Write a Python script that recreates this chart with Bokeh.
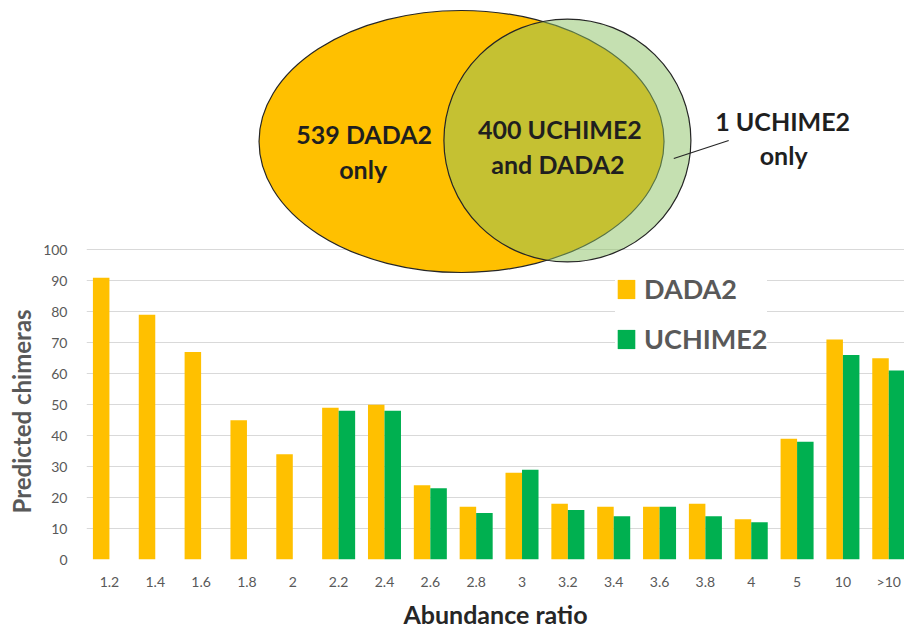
import math
from bokeh.plotting import figure
from bokeh.models import Range1d, FixedTicker, Legend, LegendItem, Title
from bokeh.core.properties import value
from bokeh.embed import file_html
from bokeh.resources import INLINE

# ---------------- data ----------------
ratios = ["1.2", "1.4", "1.6", "1.8", "2", "2.2", "2.4", "2.6", "2.8", "3",
          "3.2", "3.4", "3.6", "3.8", "4", "5", "10", ">10"]
dada2 = [91, 79, 67, 45, 34, 49, 50, 24, 17, 28, 18, 17, 17, 18, 13, 39, 71, 65]
uchime2 = [None, None, None, None, None, 48, 48, 23, 15, 29, 16, 14, 17, 14, 12, 38, 66, 61]
y_ticks = [0, 10, 20, 30, 40, 50, 60, 70, 80, 90, 100]

venn_dada2_only = 539
venn_both = 400
venn_uchime2_only = 1

# ---------------- layout constants ----------------
W, H = 904, 632
LEFT, BOTTOM = 85, 73
FRAME_W = W - LEFT
FRAME_H = H - BOTTOM
PX_PER_CAT = 45.9
PX_PER_UNIT = 3.097
BAR_W = 0.36
FONT = "Lato"
GREY = "#595959"
DARK = "#1f1f1f"

p = figure(width=W, height=H, output_backend="svg", toolbar_location=None,
           x_range=Range1d(-0.5, -0.5 + FRAME_W / PX_PER_CAT),
           y_range=Range1d(0, FRAME_H / PX_PER_UNIT),
           min_border_left=LEFT, min_border_right=0, min_border_top=0,
           min_border_bottom=BOTTOM)
p.outline_line_color = None
p.background_fill_color = "white"

# pixel-like ranges for the Venn diagram
p.extra_x_ranges = {"vx": Range1d(LEFT, W)}
p.extra_y_ranges = {"vy": Range1d(FRAME_H, 0)}

# axes
p.xgrid.visible = False
p.yaxis.ticker = FixedTicker(ticks=y_ticks)
p.ygrid.ticker = FixedTicker(ticks=y_ticks)
p.ygrid.grid_line_color = "#D9D9D9"
p.ygrid.grid_line_width = 1

for ax in (p.xaxis[0], p.yaxis[0]):
    ax.axis_line_color = None
    ax.major_tick_line_color = None
    ax.minor_tick_line_color = None
    ax.major_label_text_font = FONT
    ax.major_label_text_font_size = "14px"
    ax.major_label_text_color = GREY

p.yaxis.major_label_standoff = 13
p.xaxis.ticker = FixedTicker(ticks=list(range(len(ratios))))
p.xaxis.major_label_overrides = {i: r for i, r in enumerate(ratios)}
p.xaxis.major_label_standoff = 7
p.xaxis.axis_label = "Abundance ratio"
p.xaxis.axis_label_text_font = FONT
p.xaxis.axis_label_text_font_style = "bold"
p.xaxis.axis_label_text_font_size = "25px"
p.xaxis.axis_label_text_color = "#262626"
p.xaxis.axis_label_standoff = 6

# y axis title, placed in the lower part of the frame side
p.add_layout(Title(text="Predicted chimeras", align="left", offset=46,
                   text_font=FONT, text_font_style="bold", text_font_size="24px",
                   text_color=GREY, standoff=9), "left")

# bars
idx = list(range(len(ratios)))
r_d = p.vbar(x=[i - BAR_W / 2 for i in idx], top=dada2, bottom=0, width=BAR_W,
             fill_color="#FFC000", line_color=None)
u_idx = [i for i, v in enumerate(uchime2) if v is not None]
r_u = p.vbar(x=[i + BAR_W / 2 for i in u_idx], top=[uchime2[i] for i in u_idx],
             bottom=0, width=BAR_W, fill_color="#00B050", line_color=None)

legend = Legend(items=[LegendItem(label="DADA2", renderers=[r_d]),
                       LegendItem(label="UCHIME2", renderers=[r_u])],
                location=(529, 204), orientation="vertical",
                padding=4, margin=0, spacing=17,
                glyph_width=22, glyph_height=24, label_height=32,
                label_standoff=7,
                label_text_font=FONT, label_text_font_style="bold",
                label_text_font_size="27px", label_text_color=GREY,
                background_fill_color="white", background_fill_alpha=1.0,
                border_line_color=None)
p.add_layout(legend)

# Venn diagram
p.ellipse(x=[460.5], y=[141], width=[405], height=[262],
          width_units="screen", height_units="screen",
          fill_color="#FFC000", line_color="#262626", line_width=1.2,
          x_range_name="vx", y_range_name="vy")
p.ellipse(x=[566.5], y=[140], width=[247], height=[243],
          width_units="screen", height_units="screen",
          fill_color="#8CC264", fill_alpha=0.5, line_color="#262626", line_width=1.2,
          x_range_name="vx", y_range_name="vy")
p.line(x=[673, 728], y=[158, 140], line_color="#262626", line_width=1.3,
       x_range_name="vx", y_range_name="vy")

venn_texts = [f"{venn_dada2_only} DADA2", "only",
              f"{venn_both} UCHIME2", "and DADA2",
              f"{venn_uchime2_only} UCHIME2", "only"]
venn_tx = [363, 362, 559, 557, 782, 783]
venn_ty = [133, 168, 128, 163, 120, 154]
p.text(x=venn_tx, y=venn_ty, text=venn_texts,
       text_font=value(FONT), text_font_style="bold", text_font_size="25px",
       text_color=DARK, text_align="center", text_baseline="alphabetic",
       x_range_name="vx", y_range_name="vy")

open("out.html", "w").write(file_html(p, INLINE))
